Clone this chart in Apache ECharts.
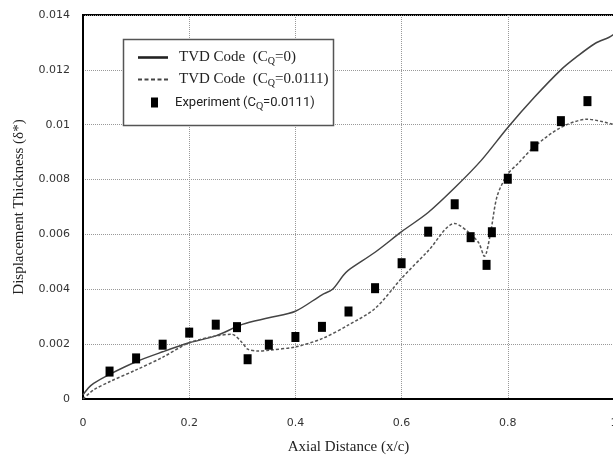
<!DOCTYPE html>
<html><head><meta charset="utf-8">
<script src="https://cdn.jsdelivr.net/npm/echarts@6/dist/echarts.min.js"></script>
<style>html,body{margin:0;padding:0;background:#fff}#c{width:613px;height:457px}</style>
</head><body><div id="c"></div>
<script>
var xTicks = [0, 0.2, 0.4, 0.6, 0.8, 1];
var yTicks = [0, 0.002, 0.004, 0.006, 0.008, 0.01, 0.012, 0.014];

var solidX = [0, 0.01, 0.02, 0.05, 0.1, 0.15, 0.2, 0.25, 0.3, 0.35, 0.4, 0.45, 0.47, 0.49, 0.5, 0.55, 0.6, 0.65, 0.7, 0.75, 0.8, 0.85, 0.9, 0.93, 0.965, 0.99, 1.0];
var solidY = [0.00015, 0.0004, 0.00057, 0.0009, 0.00136, 0.00172, 0.00205, 0.0023, 0.00272, 0.00296, 0.0032, 0.0038, 0.0040, 0.0045, 0.0047, 0.00535, 0.0061, 0.0068, 0.0077, 0.0087, 0.0099, 0.011, 0.012, 0.01248, 0.01297, 0.01318, 0.0133];

var dashX = [0, 0.02, 0.05, 0.1, 0.15, 0.2, 0.25, 0.28, 0.3, 0.31, 0.33, 0.35, 0.4, 0.45, 0.5, 0.55, 0.6, 0.65, 0.7, 0.725, 0.745, 0.756, 0.767, 0.78, 0.8, 0.82, 0.85, 0.9, 0.95, 1.0];
var dashY = [0, 0.00033, 0.00063, 0.00106, 0.00152, 0.00205, 0.0023, 0.00236, 0.00205, 0.00182, 0.00175, 0.00178, 0.0019, 0.0022, 0.0027, 0.0033, 0.0044, 0.0054, 0.0064, 0.0061, 0.0057, 0.0052, 0.006, 0.0074, 0.0082, 0.0086, 0.0092, 0.0099, 0.0102, 0.01];

var expX = [0.05, 0.1, 0.15, 0.2, 0.25, 0.29, 0.31, 0.35, 0.4, 0.45, 0.5, 0.55, 0.6, 0.65, 0.7, 0.73, 0.76, 0.77, 0.8, 0.85, 0.9, 0.95];
var expY = [0.001, 0.00148, 0.00198, 0.00242, 0.00271, 0.00262, 0.00145, 0.00198, 0.00226, 0.00263, 0.00319, 0.00404, 0.00495, 0.0061, 0.0071, 0.0059, 0.00489, 0.00608, 0.00803, 0.00921, 0.01013, 0.01086];

var names = ['TVD Code  (CQ=0)', 'TVD Code  (CQ=0.0111)', 'Experiment (CQ=0.0111)'];

function zip(a, b) { return a.map(function (v, i) { return [v, b[i]]; }); }

var chart = echarts.init(document.getElementById('c'), null, {renderer: 'canvas'});
var serif = '"Liberation Serif", "Times New Roman", serif';
var sans = '"DejaVu Sans", Verdana, sans-serif';
var rich = {
  s: {fontFamily: serif, fontSize: 15, color: '#222'},
  e: {fontFamily: 'Roboto, sans-serif', fontSize: 13, color: '#222'},
  q: {fontFamily: serif, fontSize: 10, color: '#222', padding: [7, 0, 0, 0]},
  pad: {width: 6}
};
var solidIcon = 'path://M0,0h30v2.6h-30z';
var dashIcon = 'path://M0,0h4v2.2h-4z M6.5,0h4v2.2h-4z M13,0h4v2.2h-4z M19.5,0h4v2.2h-4z M26,0h4v2.2h-4z';
chart.setOption({
  animation: false,
  backgroundColor: '#fff',
  grid: {left: 83, right: -1, top: 15, bottom: 58, outerBoundsMode: 'none', containLabel: false, show: true, borderColor: '#000', borderWidth: 2, backgroundColor: 'transparent'},
  graphic: [{type: 'rect', shape: {x: 123.5, y: 39.5, width: 210, height: 86}, style: {fill: '#fff', stroke: '#555', lineWidth: 1.5}, z: 90}],
  legend: [{
    data: [{name: names[0], icon: solidIcon}, {name: names[1], icon: dashIcon}],
    orient: 'vertical', left: 133, top: 45, itemWidth: 30, itemHeight: 10, itemGap: 6, z: 100,
    itemStyle: {borderWidth: 0}, lineStyle: {width: 0},
    formatter: function (n) {
      return n === names[0] ? '{pad|}{s|TVD Code  (C}{q|Q}{s|=0)}' : '{pad|}{s|TVD Code  (C}{q|Q}{s|=0.0111)}';
    },
    textStyle: {rich: rich}
  }, {
    data: [names[2]], orient: 'vertical', left: 146, top: 91, itemWidth: 7, itemHeight: 10, z: 100,
    formatter: function () { return '{pad|}{pad|}{e|Experiment\u2009(C}{q|Q}{e|=0.0111)}'; },
    textStyle: {rich: rich}
  }],
  xAxis: {
    type: 'value', min: 0, max: 1, interval: 0.2,
    name: 'Axial Distance (x/c)', nameLocation: 'middle', nameGap: 41,
    nameTextStyle: {fontFamily: serif, fontSize: 15, color: '#222'},
    axisLine: {show: true, lineStyle: {color: '#000', width: 2}},
    axisTick: {show: false},
    axisLabel: {margin: 19, fontFamily: sans, fontSize: 11, color: '#333', formatter: function (v) { return String(+v.toFixed(1)); }},
    splitLine: {show: true, lineStyle: {type: 'dotted', color: '#999', width: 1}}
  },
  yAxis: {
    type: 'value', min: 0, max: 0.014, interval: 0.002,
    name: 'Displacement Thickness (\u03b4*)', nameLocation: 'middle', nameGap: 56,
    nameTextStyle: {fontFamily: serif, fontSize: 15, color: '#222'},
    axisLine: {show: true, lineStyle: {color: '#000', width: 2}},
    axisTick: {show: false},
    axisLabel: {margin: 13, fontFamily: sans, fontSize: 11, color: '#333', formatter: function (v) { return String(+v.toFixed(3)); }},
    splitLine: {show: true, lineStyle: {type: 'dotted', color: '#999', width: 1}}
  },
  series: [{
    name: names[0], type: 'line', data: zip(solidX, solidY), symbol: 'none', smooth: 0.3,
    lineStyle: {color: '#444', width: 1.5}, itemStyle: {color: '#222'}, z: 3
  }, {
    name: names[1], type: 'line', data: zip(dashX, dashY), symbol: 'none', smooth: 0.3,
    lineStyle: {color: '#555', width: 1.5, type: [3, 2]}, itemStyle: {color: '#444'}, z: 3
  }, {
    name: names[2], type: 'scatter', data: zip(expX, expY), symbol: 'rect', symbolSize: [8, 10],
    itemStyle: {color: '#000', opacity: 1}, z: 4
  }]
});
</script></body></html>
